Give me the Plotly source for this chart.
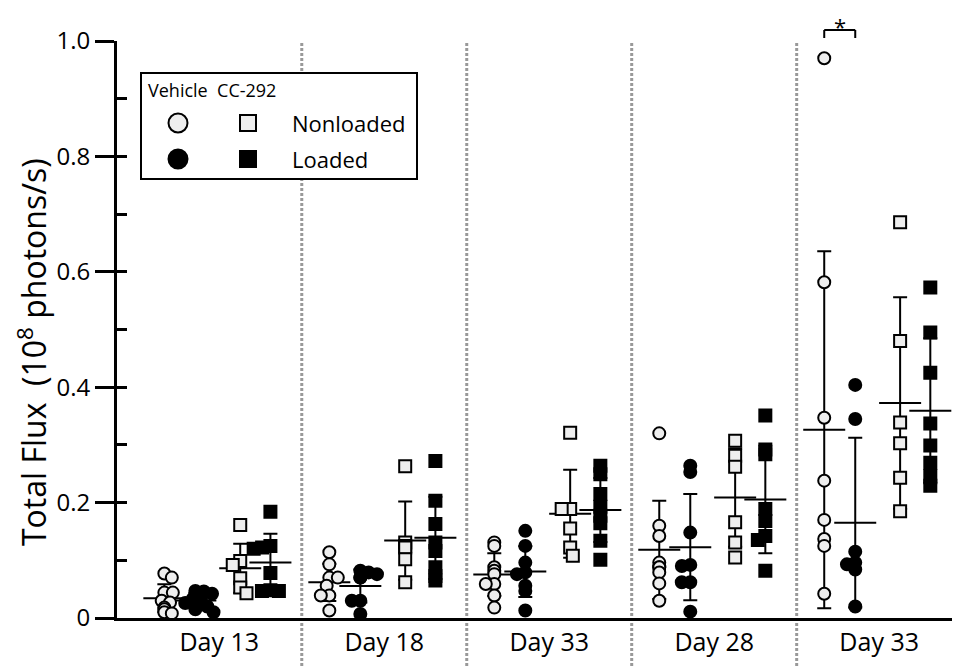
import numpy as np
import plotly.graph_objects as go

# ---------------- data ----------------
days = ["Day 13", "Day 18", "Day 33", "Day 28", "Day 33"]
y_tick_vals = [0, 0.2, 0.4, 0.6, 0.8, 1.0]
y_tick_text = ["0", "0.2", "0.4", "0.6", "0.8", "1.0"]

vehicle_nonloaded = [
    [0.077, 0.070, 0.044, 0.044, 0.030, 0.027, 0.018, 0.015, 0.010, 0.008],
    [0.114, 0.093, 0.070, 0.070, 0.056, 0.039, 0.039, 0.013],
    [0.131, 0.125, 0.088, 0.082, 0.076, 0.059, 0.059, 0.039, 0.018],
    [0.320, 0.160, 0.142, 0.096, 0.088, 0.088, 0.079, 0.060, 0.030],
    [0.970, 0.582, 0.347, 0.238, 0.170, 0.137, 0.125, 0.042],
]
vehicle_loaded = [
    [0.047, 0.046, 0.042, 0.036, 0.033, 0.030, 0.026, 0.020, 0.015, 0.010],
    [0.082, 0.079, 0.076, 0.070, 0.070, 0.030, 0.030, 0.007],
    [0.151, 0.125, 0.096, 0.079, 0.076, 0.056, 0.047, 0.013],
    [0.264, 0.253, 0.148, 0.092, 0.090, 0.062, 0.062, 0.011],
    [0.404, 0.345, 0.115, 0.096, 0.093, 0.084, 0.020],
]
cc292_nonloaded = [
    [0.161, 0.099, 0.092, 0.069, 0.053, 0.043],
    [0.263, 0.131, 0.125, 0.122, 0.102, 0.062],
    [0.321, 0.189, 0.189, 0.155, 0.122, 0.108],
    [0.307, 0.281, 0.262, 0.166, 0.131, 0.105],
    [0.686, 0.480, 0.339, 0.303, 0.243, 0.185],
]
cc292_loaded = [
    [0.184, 0.125, 0.122, 0.120, 0.078, 0.048, 0.047, 0.047],
    [0.272, 0.203, 0.163, 0.131, 0.116, 0.088, 0.073, 0.065],
    [0.264, 0.249, 0.215, 0.193, 0.177, 0.164, 0.134, 0.101],
    [0.351, 0.292, 0.284, 0.189, 0.168, 0.142, 0.135, 0.082],
    [0.573, 0.495, 0.425, 0.337, 0.299, 0.269, 0.246, 0.229],
]

# ---------------- layout constants ----------------
BODY = 8                       # default page margin of the html body
W, H = 960 - BODY, 666 - BODY  # figure size so that it ends at the window edge
PLOT_L, PLOT_R, PLOT_T, PLOT_B = 117, 960, 41, 618   # wanted plot box, in page pixels
ML, MR = PLOT_L - BODY, 960 - PLOT_R
MT, MB = PLOT_T - BODY, 666 - PLOT_B
PW, PH = PLOT_R - PLOT_L, PLOT_B - PLOT_T
XR = [-0.62, 4.49]
YR = [0, 1.0]
px_per_x = PW / (XR[1] - XR[0])
px_per_y = PH / (YR[1] - YR[0])

FONT = "Open Sans"
OPEN_FILL = "#eeeeee"

series = [
    dict(data=vehicle_nonloaded, off=-0.333, symbol="circle", fill=OPEN_FILL),
    dict(data=vehicle_loaded, off=-0.145, symbol="circle", fill="black"),
    dict(data=cc292_nonloaded, off=0.127, symbol="square", fill=OPEN_FILL),
    dict(data=cc292_loaded, off=0.310, symbol="square", fill="black"),
]


def swarm(values, dmin=8.5):
    """Simple beeswarm: returns horizontal pixel offsets avoiding overlap."""
    order = np.argsort(-np.asarray(values))
    placed = []
    out = np.zeros(len(values))
    for k, i in enumerate(order):
        yp = values[i] * px_per_y
        cands = [0.0]
        for (xq, yq) in placed:
            dy = abs(yp - yq)
            if dy < dmin:
                dx = np.sqrt(dmin ** 2 - dy ** 2)
                cands += [xq + dx, xq - dx]
        cands = sorted(set(round(c, 4) for c in cands), key=lambda c: (abs(c), -c if k % 2 else c))
        for c in cands:
            ok = all((c - xq) ** 2 + (yp - yq) ** 2 >= dmin ** 2 - 1e-6 for (xq, yq) in placed)
            if ok:
                out[i] = c
                placed.append((c, yp))
                break
    return out


fig = go.Figure()

# error bars (mean ± SD) drawn first, under the points
for s in series:
    xs, ms, sds = [], [], []
    for g, vals in enumerate(s["data"]):
        v = np.asarray(vals)
        xs.append(g + s["off"])
        ms.append(v.mean())
        sds.append(v.std(ddof=1))
    fig.add_trace(go.Scatter(
        x=xs, y=ms, mode="markers", showlegend=False, hoverinfo="skip",
        marker=dict(symbol="line-ew", size=30, line=dict(color="black", width=2)),
        error_y=dict(type="data", array=sds, visible=True, thickness=2, width=7, color="black"),
        cliponaxis=False,
    ))

# points
for s in series:
    xs, ys = [], []
    for g, vals in enumerate(s["data"]):
        offs = swarm(vals)
        for v, o in zip(vals, offs):
            xs.append(g + s["off"] + o / px_per_x)
            ys.append(v)
    fig.add_trace(go.Scatter(
        x=xs, y=ys, mode="markers", showlegend=False,
        marker=dict(symbol=s["symbol"], size=12, color=s["fill"],
                    line=dict(color="black", width=2)),
        cliponaxis=False,
    ))

# dummy trace to carry the inside-tick overlay axis
fig.add_trace(go.Scatter(x=[None], y=[None], yaxis="y2", showlegend=False, hoverinfo="skip"))


def px2paper(px, py):
    """page pixel -> paper coordinates"""
    return (px - PLOT_L) / PW, (PLOT_B - py) / PH


shapes = []
# dotted separators between days
for g in range(len(days) - 1):
    shapes.append(dict(type="line", xref="x", yref="paper", x0=g + 0.5, x1=g + 0.5,
                       y0=-(666 - PLOT_B) / PH, y1=1.0, layer="below",
                       line=dict(color="#999999", width=3, dash="3px,2px")))

# significance bracket over last day's vehicle groups
xa = len(days) - 1 + series[0]["off"]
xb = len(days) - 1 + series[1]["off"]
_, yb_top = px2paper(0, 30)
_, yb_bot = px2paper(0, 38)
shapes += [
    dict(type="line", xref="x", yref="paper", x0=xa, x1=xb, y0=yb_top, y1=yb_top, line=dict(color="black", width=2)),
    dict(type="line", xref="x", yref="paper", x0=xa, x1=xa, y0=yb_bot, y1=yb_top, line=dict(color="black", width=2)),
    dict(type="line", xref="x", yref="paper", x0=xb, x1=xb, y0=yb_bot, y1=yb_top, line=dict(color="black", width=2)),
]

# legend box
lx0, ly0 = px2paper(141, 179)
lx1, ly1 = px2paper(417, 73)
shapes.append(dict(type="rect", xref="paper", yref="paper", x0=lx0, x1=lx1, y0=ly0, y1=ly1,
                   line=dict(color="black", width=2), fillcolor="white", layer="above"))

leg_rows = [("Nonloaded", OPEN_FILL, 123), ("Loaded", "black", 159)]
annotations = []
for label, fill, py in leg_rows:
    cx, cy = px2paper(178, py)
    sx, _ = px2paper(248, py)
    shapes.append(dict(type="circle", xref="paper", yref="paper", xsizemode="pixel", ysizemode="pixel",
                       xanchor=cx, yanchor=cy, x0=-9.5, x1=9.5, y0=-9.5, y1=9.5,
                       fillcolor=fill, line=dict(color="black", width=2), layer="above"))
    shapes.append(dict(type="rect", xref="paper", yref="paper", xsizemode="pixel", ysizemode="pixel",
                       xanchor=sx, yanchor=cy, x0=-8, x1=8, y0=-8, y1=8,
                       fillcolor=fill, line=dict(color="black", width=2), layer="above"))
    tx, _ = px2paper(290, py)
    annotations.append(dict(xref="paper", yref="paper", x=tx, y=cy, text=label, showarrow=False,
                            xanchor="left", yanchor="middle", font=dict(family=FONT, size=22, color="black")))

hx, hy = px2paper(146, 90)
annotations.append(dict(xref="paper", yref="paper", x=hx, y=hy, text="Vehicle&nbsp;&nbsp;CC-292",
                        showarrow=False, xanchor="left", yanchor="middle",
                        font=dict(family=FONT, size=18, color="black")))

# asterisk
_, ay = px2paper(0, 9)
annotations.append(dict(xref="x", yref="paper", x=(xa + xb) / 2, y=ay, text="*",
                        showarrow=False, xanchor="center", yanchor="top",
                        font=dict(family=FONT, size=22, color="black")))

# y axis title
tx, ty = px2paper(32, 352)
annotations.append(dict(xref="paper", yref="paper", x=tx, y=ty,
                        text="Total Flux&nbsp;&nbsp;(10<sup>8</sup> photons/s)", textangle=-90,
                        showarrow=False, xanchor="center", yanchor="middle",
                        font=dict(family=FONT, size=32, color="black")))

fig.update_layout(
    width=W, height=H,
    margin=dict(l=ML, r=MR, t=MT, b=MB, pad=0),
    paper_bgcolor="white", plot_bgcolor="white",
    showlegend=False,
    font=dict(family=FONT, color="black"),
    xaxis=dict(range=XR, showgrid=False, zeroline=False, showline=True, linewidth=3,
               linecolor="black", ticks="", tickvals=list(range(len(days))), ticktext=days,
               tickfont=dict(family=FONT, size=25, color="black")),
    yaxis=dict(range=YR, showgrid=False, zeroline=False, showline=True, linewidth=3,
               linecolor="black", ticks="outside", ticklen=19, tickwidth=2.5, tickcolor="black",
               tickvals=y_tick_vals, ticktext=y_tick_text,
               tickfont=dict(family=FONT, size=24, color="black")),
    yaxis2=dict(range=YR, overlaying="y", side="left", anchor="x", showgrid=False, zeroline=False,
                showline=False, ticks="inside", ticklen=10, tickwidth=2.5, tickcolor="black",
                dtick=0.1, tick0=0, showticklabels=False),
    shapes=shapes,
    annotations=annotations,
)

fig.write_html("out.html")
